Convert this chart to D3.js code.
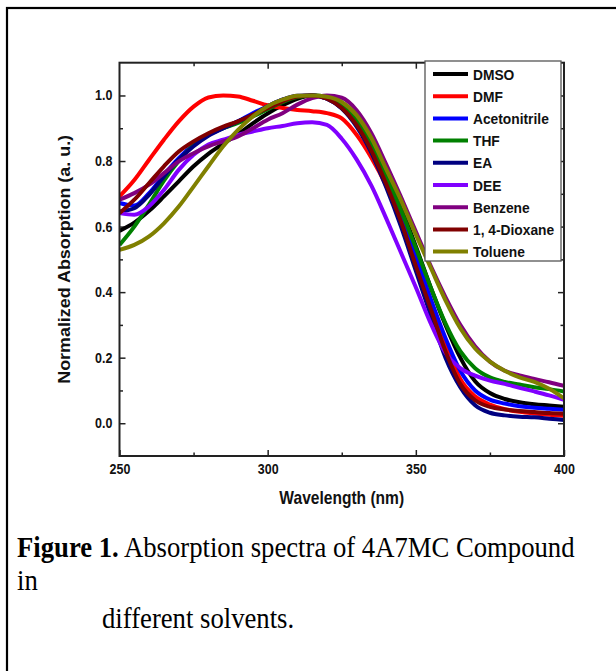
<!DOCTYPE html>
<html>
<head>
<meta charset="utf-8">
<script src="https://cdn.jsdelivr.net/npm/d3@7"></script>
<style>
    body { margin: 0; background: #fff; }
    svg { display: block; }
</style>
</head>
<body>
<svg id="chart" width="616" height="671"></svg>
<script>
// wavelength grid (nm)
const wavelength = [250, 255, 260, 265, 270, 275, 280, 285, 290, 295, 300, 305, 310, 315, 320,
    325, 330, 335, 340, 345, 350, 355, 360, 365, 370, 375, 380, 385, 390, 395, 400];

const dmso = [0.587, 0.612, 0.648, 0.692, 0.738, 0.784, 0.822, 0.853, 0.882, 0.915, 0.945, 0.970, 0.990, 1.000, 0.995,
    0.975, 0.930, 0.860, 0.770, 0.660, 0.540, 0.415, 0.300, 0.200, 0.128, 0.092, 0.074, 0.064, 0.058, 0.054, 0.050];
const dmf = [0.692, 0.742, 0.804, 0.865, 0.921, 0.966, 0.994, 1.000, 0.997, 0.984, 0.970, 0.962, 0.956, 0.952, 0.946,
    0.930, 0.880, 0.810, 0.725, 0.620, 0.500, 0.375, 0.245, 0.135, 0.082, 0.057, 0.043, 0.035, 0.030, 0.026, 0.023];
const acetonitrile = [0.672, 0.664, 0.702, 0.758, 0.809, 0.850, 0.880, 0.900, 0.921, 0.946, 0.967, 0.987, 0.998, 1.000, 0.990,
    0.962, 0.910, 0.835, 0.740, 0.630, 0.510, 0.380, 0.260, 0.160, 0.100, 0.072, 0.060, 0.052, 0.047, 0.044, 0.041];
const thf = [0.544, 0.600, 0.668, 0.740, 0.800, 0.848, 0.880, 0.900, 0.916, 0.936, 0.958, 0.980, 0.995, 1.000, 0.996,
    0.975, 0.925, 0.850, 0.755, 0.650, 0.535, 0.415, 0.305, 0.220, 0.168, 0.140, 0.126, 0.118, 0.110, 0.104, 0.097];
const ea = [0.646, 0.656, 0.697, 0.753, 0.804, 0.845, 0.877, 0.900, 0.921, 0.941, 0.967, 0.987, 0.999, 1.000, 0.990,
    0.960, 0.905, 0.825, 0.720, 0.600, 0.465, 0.330, 0.200, 0.110, 0.055, 0.032, 0.024, 0.020, 0.018, 0.014, 0.010];
const dee = [0.641, 0.636, 0.662, 0.712, 0.773, 0.819, 0.850, 0.865, 0.880, 0.890, 0.900, 0.907, 0.915, 0.918, 0.910,
    0.868, 0.805, 0.725, 0.625, 0.520, 0.415, 0.305, 0.215, 0.168, 0.145, 0.130, 0.120, 0.108, 0.097, 0.085, 0.071];
const benzene = [0.682, 0.702, 0.728, 0.763, 0.799, 0.824, 0.845, 0.860, 0.875, 0.900, 0.926, 0.946, 0.972, 0.992, 1.000,
    0.993, 0.955, 0.885, 0.790, 0.690, 0.585, 0.480, 0.385, 0.300, 0.235, 0.188, 0.160, 0.146, 0.135, 0.125, 0.114];
const dioxane = [0.641, 0.682, 0.733, 0.784, 0.829, 0.860, 0.885, 0.905, 0.921, 0.941, 0.961, 0.982, 0.997, 1.000, 0.990,
    0.962, 0.910, 0.832, 0.730, 0.615, 0.480, 0.350, 0.220, 0.120, 0.070, 0.050, 0.042, 0.037, 0.034, 0.031, 0.029];
const toluene = [0.529, 0.544, 0.570, 0.610, 0.661, 0.722, 0.784, 0.845, 0.895, 0.936, 0.967, 0.987, 0.999, 1.000, 0.996,
    0.980, 0.940, 0.870, 0.775, 0.680, 0.575, 0.475, 0.375, 0.290, 0.228, 0.188, 0.160, 0.140, 0.126, 0.105, 0.076];

const solvents = ['DMSO', 'DMF', 'Acetonitrile', 'THF', 'EA', 'DEE', 'Benzene', '1, 4-Dioxane', 'Toluene'];
const spectra = [dmso, dmf, acetonitrile, thf, ea, dee, benzene, dioxane, toluene];
const colors = ['#000000', '#ff0000', '#0000ff', '#008000', '#000080', '#8000ff', '#800080', '#800000', '#808000'];

const xMajor = [250, 300, 350, 400];
const xMinor = [275, 325, 375];
const yMajor = [0.0, 0.2, 0.4, 0.6, 0.8, 1.0];
const yMinor = [0.1, 0.3, 0.5, 0.7, 0.9];

const sans = '"Liberation Sans", Arial, sans-serif';
const serif = '"Liberation Serif", "Times New Roman", serif';
const squeeze = 0.89; // the source picture is a bit narrow

const svg = d3.select('#chart');

// outer frame of the figure, cut off at right and bottom
svg.append('rect')
    .attr('x', 7).attr('y', 8)
    .attr('width', 700).attr('height', 700)
    .attr('fill', 'none')
    .attr('stroke', '#000')
    .attr('stroke-width', 2.2);

const plot = {left: 119.5, right: 564, top: 62.7, bottom: 456};

const x = d3.scaleLinear().domain([250, 400]).range([plot.left, plot.right]);
const y = d3.scaleLinear().domain([-0.1, 1.1]).range([plot.bottom, plot.top]);

const addTicks = (axis, values, size, transform, labels) => {
    const g = svg.append('g')
        .attr('transform', transform)
        .call(axis.tickValues(values).tickSizeInner(-size).tickSizeOuter(0).tickPadding(8)
            .tickFormat(labels || (() => '')));
    g.select('.domain').remove();
    g.selectAll('line').attr('stroke', '#222').attr('stroke-width', 1.5);
    g.selectAll('text')
        .attr('fill', '#111')
        .style('font-family', sans)
        .style('font-weight', 'bold')
        .style('font-size', '14px')
        .attr('transform', `scale(${squeeze},1)`);
    return g;
};

addTicks(d3.axisBottom(x), xMajor, 6, `translate(0,${plot.bottom})`, d3.format('d'));
addTicks(d3.axisBottom(x), xMinor, 3.5, `translate(0,${plot.bottom})`);
addTicks(d3.axisTop(x), xMajor.slice(1, -1), 6, `translate(0,${plot.top})`);
addTicks(d3.axisTop(x), xMinor, 3.5, `translate(0,${plot.top})`);
addTicks(d3.axisLeft(y), yMajor, 6, `translate(${plot.left},0)`, d3.format('.1f'));
addTicks(d3.axisLeft(y), yMinor, 3.5, `translate(${plot.left},0)`);
addTicks(d3.axisRight(y), yMajor, 6, `translate(${plot.right},0)`);
addTicks(d3.axisRight(y), yMinor, 3.5, `translate(${plot.right},0)`);

svg.append('clipPath').attr('id', 'plot-clip')
    .append('rect')
    .attr('x', plot.left).attr('y', plot.top)
    .attr('width', plot.right - plot.left).attr('height', plot.bottom - plot.top);

const line = d3.line()
    .x((d, i) => x(wavelength[i]))
    .y(d => y(d))
    .curve(d3.curveMonotoneX);

svg.append('g')
    .attr('clip-path', 'url(#plot-clip)')
    .selectAll('path')
    .data(spectra)
    .join('path')
    .attr('d', line)
    .attr('fill', 'none')
    .attr('stroke', (d, i) => colors[i])
    .attr('stroke-width', 4)
    .attr('stroke-linejoin', 'round');

// plot frame
svg.append('rect')
    .attr('x', plot.left).attr('y', plot.top)
    .attr('width', plot.right - plot.left).attr('height', plot.bottom - plot.top)
    .attr('fill', 'none')
    .attr('stroke', '#222')
    .attr('stroke-width', 2);

// legend
const legend = svg.append('g').attr('transform', 'translate(425,61)');
legend.append('rect')
    .attr('width', 136).attr('height', 200)
    .attr('fill', '#fff')
    .attr('stroke', '#555')
    .attr('stroke-width', 1.3);

const rows = legend.selectAll('g.row')
    .data(solvents)
    .join('g')
    .attr('class', 'row')
    .attr('transform', (d, i) => `translate(0,${13 + i * 22.2})`);

rows.append('line')
    .attr('x1', 8).attr('x2', 43)
    .attr('stroke', (d, i) => colors[i])
    .attr('stroke-width', 4);

rows.append('text')
    .attr('transform', `translate(48,0) scale(${squeeze},1)`)
    .attr('dy', '0.36em')
    .attr('fill', '#111')
    .style('font-family', sans)
    .style('font-weight', 'bold')
    .style('font-size', '15.5px')
    .text(d => d);

// axis titles
svg.append('text')
    .attr('transform', `translate(${(plot.left + plot.right) / 2},504) scale(${squeeze},1)`)
    .attr('text-anchor', 'middle')
    .attr('fill', '#111')
    .style('font-family', sans)
    .style('font-weight', 'bold')
    .style('font-size', '17.5px')
    .text('Wavelength (nm)');

svg.append('text')
    .attr('transform', `translate(70,${(plot.top + plot.bottom) / 2}) rotate(-90) scale(1,${squeeze})`)
    .attr('text-anchor', 'middle')
    .attr('fill', '#111')
    .style('font-family', sans)
    .style('font-weight', 'bold')
    .style('font-size', '17.9px')
    .text('Normalized Absorption (a. u.)');

// caption
const caption = svg.append('g')
    .style('font-family', serif)
    .style('font-size', '30px')
    .attr('fill', '#000');

const first = caption.append('text')
    .attr('transform', `translate(17,557) scale(${squeeze},1)`);
first.append('tspan').style('font-weight', 'bold').text('Figure 1.');
first.append('tspan').text(' Absorption spectra of 4A7MC Compound');

caption.append('text')
    .attr('transform', `translate(17,590) scale(${squeeze},1)`)
    .text('in');

caption.append('text')
    .attr('transform', `translate(102,628) scale(${squeeze},1)`)
    .text('different solvents.');
</script>
</body>
</html>
